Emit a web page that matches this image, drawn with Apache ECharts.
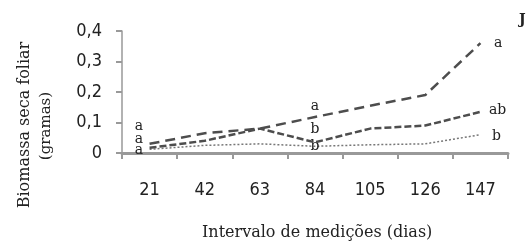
<!DOCTYPE html>
<html>
<head>
<meta charset="utf-8">
<script src="https://cdn.jsdelivr.net/npm/echarts@6/dist/echarts.min.js"></script>
<style>
  html, body { margin: 0; padding: 0; background: #fff; }
  #chart { width: 532px; height: 242px; }
</style>
</head>
<body>
<div id="chart"></div>
<script>
// dados
var dias = ['21', '42', '63', '84', '105', '126', '147'];
var serieA = [0.03, 0.065, 0.08, 0.118, 0.155, 0.19, 0.36];
var serieB = [0.017, 0.04, 0.08, 0.035, 0.08, 0.09, 0.135];
var serieC = [0.012, 0.025, 0.03, 0.022, 0.027, 0.03, 0.06];
// letras de significancia
var letrasA = ['a', '', '', 'a', '', '', 'a'];
var letrasB = ['a', '', '', 'b', '', '', 'ab'];
var letrasC = ['a', '', '', 'b', '', '', 'b'];

var fonte = 'DejaVu Serif';
var fonteEixo = 'DejaVu Sans Condensed';

// posicao das letras: inicio, meio, fim
var posLetras = {
  A: [{ position: 'left', offset: [-1, -17] }, { position: 'top', offset: [0, 2] }, { position: 'right', offset: [8, 0] }],
  B: [{ position: 'left', offset: [-1, -8] }, { position: 'top', offset: [0, 0] }, { position: 'right', offset: [3, -1] }],
  C: [{ position: 'left', offset: [-1, 1] }, { position: 'inside', offset: [0, 0] }, { position: 'right', offset: [6, 2] }]
};

function montaDados (valores, letras, pos) {
  var idx = { 0: 0, 3: 1, 6: 2 };
  return valores.map(function (v, i) {
    if (!letras[i]) return v;
    var p = pos[idx[i]];
    return {
      value: v,
      label: {
        show: true,
        formatter: letras[i],
        position: p.position,
        offset: p.offset,
        distance: 5,
        color: '#222',
        fontFamily: fonte,
        fontSize: 14
      }
    };
  });
}

function serie (dados, cor, largura, tracejado, z) {
  return {
    type: 'line',
    data: dados,
    symbol: 'circle',
    symbolSize: 1,
    showSymbol: true,
    itemStyle: { color: 'rgba(0,0,0,0)' },
    lineStyle: { color: cor, width: largura, type: tracejado },
    z: z
  };
}

var chart = echarts.init(document.getElementById('chart'));
var option = {
  animation: false,
  grid: { left: 122, right: 24, top: 31, bottom: 89 },
  xAxis: {
    type: 'category',
    data: dias,
    boundaryGap: true,
    axisLine: { lineStyle: { color: '#999', width: 3 } },
    axisTick: { show: true, length: 6, lineStyle: { color: '#999', width: 2 } },
    axisLabel: { color: '#222', fontFamily: fonteEixo, fontSize: 18, margin: 28 }
  },
  yAxis: {
    type: 'value',
    min: 0,
    max: 0.4,
    interval: 0.1,
    splitLine: { show: false },
    axisLine: { show: true, lineStyle: { color: '#999', width: 1.5 } },
    axisTick: { show: true, length: 6, lineStyle: { color: '#999', width: 2 } },
    axisLabel: {
      color: '#222',
      fontFamily: fonteEixo,
      fontSize: 18,
      margin: 20,
      formatter: function (v) { return v === 0 ? '0' : v.toFixed(1).replace('.', ','); }
    }
  },
  series: [
    serie(montaDados(serieA, letrasA, posLetras.A), '#4d4d4d', 2.5, [10, 6], 3),
    serie(montaDados(serieB, letrasB, posLetras.B), '#4d4d4d', 2.5, [7, 3], 2),
    serie(montaDados(serieC, letrasC, posLetras.C), '#777', 1.5, [2, 2], 1)
  ],
  graphic: [
    {
      type: 'text',
      left: 202,
      top: 225,
      style: { text: 'Intervalo de medições (dias)', fill: '#222', font: '16px "DejaVu Serif"' }
    },
    {
      type: 'text',
      x: 25,
      y: 125,
      rotation: Math.PI / 2,
      style: { text: 'Biomassa seca foliar', fill: '#222', font: '16px "DejaVu Serif"', align: 'center', verticalAlign: 'middle' }
    },
    {
      type: 'text',
      x: 46,
      y: 126,
      rotation: Math.PI / 2,
      style: { text: '(gramas)', fill: '#222', font: '15px "DejaVu Serif"', align: 'center', verticalAlign: 'middle' }
    },
    {
      type: 'text',
      x: 519,
      y: 13,
      style: { text: 'J', fill: '#222', font: 'bold 14px "DejaVu Serif"' }
    }
  ]
};
chart.setOption(option);
</script>
</body>
</html>
